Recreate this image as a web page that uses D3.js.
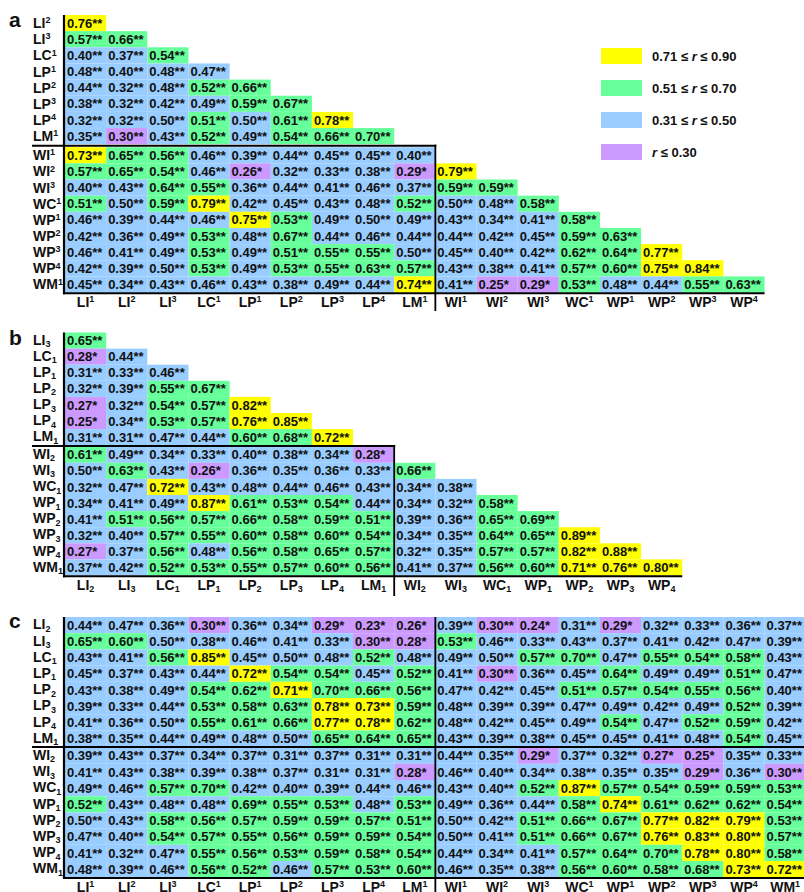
<!DOCTYPE html>
<html>
<head>
<meta charset="utf-8">
<script src="https://cdn.jsdelivr.net/npm/d3@7"></script>
<style>
  body { margin: 0; background: #fff; }
  svg { display: block; }
  text { font-family: "Liberation Sans", Arial, Helvetica, sans-serif; font-weight: bold; fill: #111; }
</style>
</head>
<body>
<svg id="chart" width="804" height="892"></svg>
<script>
// ---- Panel a: correlations (superscript indices) ----
const aRows = ["LI2","LI3","LC1","LP1","LP2","LP3","LP4","LM1","WI1","WI2","WI3","WC1","WP1","WP2","WP3","WP4","WM1"];
const aCols = ["LI1","LI2","LI3","LC1","LP1","LP2","LP3","LP4","LM1","WI1","WI2","WI3","WC1","WP1","WP2","WP3","WP4"];
const aValues = [
  ["0.76**"],
  ["0.57**","0.66**"],
  ["0.40**","0.37**","0.54**"],
  ["0.48**","0.40**","0.48**","0.47**"],
  ["0.44**","0.32**","0.48**","0.52**","0.66**"],
  ["0.38**","0.32**","0.42**","0.49**","0.59**","0.67**"],
  ["0.32**","0.32**","0.50**","0.51**","0.50**","0.61**","0.78**"],
  ["0.35**","0.30**","0.43**","0.52**","0.49**","0.54**","0.66**","0.70**"],
  ["0.73**","0.65**","0.56**","0.46**","0.39**","0.44**","0.45**","0.45**","0.40**"],
  ["0.57**","0.65**","0.54**","0.46**","0.26*","0.32**","0.33**","0.38**","0.29*","0.79**"],
  ["0.40**","0.43**","0.64**","0.55**","0.36**","0.44**","0.41**","0.46**","0.37**","0.59**","0.59**"],
  ["0.51**","0.50**","0.59**","0.79**","0.42**","0.45**","0.43**","0.48**","0.52**","0.50**","0.48**","0.58**"],
  ["0.46**","0.39**","0.44**","0.46**","0.75**","0.53**","0.49**","0.50**","0.49**","0.43**","0.34**","0.41**","0.58**"],
  ["0.42**","0.36**","0.49**","0.53**","0.48**","0.67**","0.44**","0.46**","0.44**","0.44**","0.42**","0.45**","0.59**","0.63**"],
  ["0.46**","0.41**","0.49**","0.53**","0.49**","0.51**","0.55**","0.55**","0.50**","0.45**","0.40**","0.42**","0.62**","0.64**","0.77**"],
  ["0.42**","0.39**","0.50**","0.53**","0.49**","0.53**","0.55**","0.63**","0.57**","0.43**","0.38**","0.41**","0.57**","0.60**","0.75**","0.84**"],
  ["0.45**","0.34**","0.43**","0.46**","0.43**","0.38**","0.49**","0.44**","0.74**","0.41**","0.25*","0.29*","0.53**","0.48**","0.44**","0.55**","0.63**"]
];

// ---- Panel b: correlations (subscript indices) ----
const bRows = ["LI3","LC1","LP1","LP2","LP3","LP4","LM1","WI2","WI3","WC1","WP1","WP2","WP3","WP4","WM1"];
const bCols = ["LI2","LI3","LC1","LP1","LP2","LP3","LP4","LM1","WI2","WI3","WC1","WP1","WP2","WP3","WP4"];
const bValues = [
  ["0.65**"],
  ["0.28*","0.44**"],
  ["0.31**","0.33**","0.46**"],
  ["0.32**","0.39**","0.55**","0.67**"],
  ["0.27*","0.32**","0.54**","0.57**","0.82**"],
  ["0.25*","0.34**","0.53**","0.57**","0.76**","0.85**"],
  ["0.31**","0.31**","0.47**","0.44**","0.60**","0.68**","0.72**"],
  ["0.61**","0.49**","0.34**","0.33**","0.40**","0.38**","0.34**","0.28*"],
  ["0.50**","0.63**","0.43**","0.26*","0.36**","0.35**","0.36**","0.33**","0.66**"],
  ["0.32**","0.47**","0.72**","0.43**","0.48**","0.44**","0.46**","0.43**","0.34**","0.38**"],
  ["0.34**","0.41**","0.49**","0.87**","0.61**","0.53**","0.54**","0.44**","0.34**","0.32**","0.58**"],
  ["0.41**","0.51**","0.56**","0.57**","0.66**","0.58**","0.59**","0.51**","0.39**","0.36**","0.65**","0.69**"],
  ["0.32**","0.40**","0.57**","0.55**","0.60**","0.58**","0.60**","0.54**","0.34**","0.35**","0.64**","0.65**","0.89**"],
  ["0.27*","0.37**","0.56**","0.48**","0.56**","0.58**","0.65**","0.57**","0.32**","0.35**","0.57**","0.57**","0.82**","0.88**"],
  ["0.37**","0.42**","0.52**","0.53**","0.55**","0.57**","0.60**","0.56**","0.41**","0.37**","0.56**","0.60**","0.71**","0.76**","0.80**"]
];

// ---- Panel c: cross correlations (subscript rows, superscript columns) ----
const cRows = ["LI2","LI3","LC1","LP1","LP2","LP3","LP4","LM1","WI2","WI3","WC1","WP1","WP2","WP3","WP4","WM1"];
const cCols = ["LI1","LI2","LI3","LC1","LP1","LP2","LP3","LP4","LM1","WI1","WI2","WI3","WC1","WP1","WP2","WP3","WP4","WM1"];
const cValues = [
  ["0.44**","0.47**","0.36**","0.30**","0.36**","0.34**","0.29*","0.23*","0.26*","0.39**","0.30**","0.24*","0.31**","0.29*","0.32**","0.33**","0.36**","0.37**"],
  ["0.65**","0.60**","0.50**","0.38**","0.46**","0.41**","0.33**","0.30**","0.28*","0.53**","0.46**","0.33**","0.43**","0.37**","0.41**","0.42**","0.47**","0.39**"],
  ["0.43**","0.41**","0.56**","0.85**","0.45**","0.50**","0.48**","0.52**","0.48**","0.49**","0.50**","0.57**","0.70**","0.47**","0.55**","0.54**","0.58**","0.43**"],
  ["0.45**","0.37**","0.43**","0.44**","0.72**","0.54**","0.54**","0.45**","0.52**","0.41**","0.30**","0.36**","0.45**","0.64**","0.49**","0.49**","0.51**","0.47**"],
  ["0.43**","0.38**","0.49**","0.54**","0.62**","0.71**","0.70**","0.66**","0.56**","0.47**","0.42**","0.45**","0.51**","0.57**","0.54**","0.55**","0.56**","0.40**"],
  ["0.39**","0.33**","0.44**","0.53**","0.58**","0.63**","0.78**","0.73**","0.59**","0.48**","0.39**","0.39**","0.47**","0.49**","0.42**","0.49**","0.52**","0.39**"],
  ["0.41**","0.36**","0.50**","0.55**","0.61**","0.66**","0.77**","0.78**","0.62**","0.48**","0.42**","0.45**","0.49**","0.54**","0.47**","0.52**","0.59**","0.42**"],
  ["0.38**","0.35**","0.44**","0.49**","0.48**","0.50**","0.65**","0.64**","0.65**","0.43**","0.39**","0.38**","0.45**","0.45**","0.41**","0.48**","0.54**","0.45**"],
  ["0.39**","0.43**","0.37**","0.34**","0.37**","0.31**","0.37**","0.31**","0.31**","0.44**","0.35**","0.29*","0.37**","0.32**","0.27*","0.25*","0.35**","0.33**"],
  ["0.41**","0.43**","0.38**","0.39**","0.38**","0.37**","0.31**","0.31**","0.28*","0.46**","0.40**","0.34**","0.38**","0.35**","0.35**","0.29**","0.36**","0.30**"],
  ["0.49**","0.46**","0.57**","0.70**","0.42**","0.40**","0.39**","0.44**","0.46**","0.43**","0.40**","0.52**","0.87**","0.57**","0.54**","0.59**","0.59**","0.53**"],
  ["0.52**","0.43**","0.48**","0.48**","0.69**","0.55**","0.53**","0.48**","0.53**","0.49**","0.36**","0.44**","0.58**","0.74**","0.61**","0.62**","0.62**","0.54**"],
  ["0.50**","0.43**","0.58**","0.56**","0.57**","0.59**","0.59**","0.57**","0.51**","0.50**","0.42**","0.51**","0.66**","0.67**","0.77**","0.82**","0.79**","0.53**"],
  ["0.47**","0.40**","0.54**","0.57**","0.55**","0.56**","0.59**","0.59**","0.54**","0.50**","0.41**","0.51**","0.66**","0.67**","0.76**","0.83**","0.80**","0.57**"],
  ["0.41**","0.32**","0.47**","0.55**","0.56**","0.53**","0.59**","0.58**","0.54**","0.44**","0.34**","0.41**","0.57**","0.64**","0.70**","0.78**","0.80**","0.58**"],
  ["0.48**","0.39**","0.46**","0.56**","0.52**","0.46**","0.57**","0.53**","0.60**","0.46**","0.35**","0.38**","0.56**","0.60**","0.58**","0.68**","0.73**","0.72**"]
];

// ---- Colour classes ----
const classLabels = ["0.71 \u2264 r \u2264 0.90", "0.51 \u2264 r \u2264 0.70", "0.31 \u2264 r \u2264 0.50", "r \u2264 0.30"];
const classColors = ["#FFFF00", "#66FF99", "#99CCFF", "#CC99FF"];

const fill = d3.scaleThreshold()
  .domain([0.305, 0.505, 0.705])
  .range(["#CC99FF", "#99CCFF", "#66FF99", "#FFFF00"]);

const svg = d3.select("#chart");
const X0 = 65, COLW = 41.15, LINE = "#000";

// Writes a name such as "LP3" as "LP" followed by a raised or lowered index
function writeName(sel, name, script) {
  const m = name.match(/^([A-Z]+)(\d)$/);
  sel.append("tspan").text(m[1]);
  sel.append("tspan")
    .attr("font-size", 9)
    .attr("dy", script === "sup" ? -4.8 : 2.4)
    .text(m[2]);
}

const panels = [
  { letter: "a", letterY: 27, rows: aRows, cols: aCols, values: aValues,
    top: 15, rowH: 16.15, gap: 3, rowScript: "sup", colScript: "sup",
    fullSep: false, colLabelY: 306.5, vEnd: 311 },
  { letter: "b", letterY: 345, rows: bRows, cols: bCols, values: bValues,
    top: 332.5, rowH: 16.1, gap: 1.5, rowScript: "sub", colScript: "sub",
    fullSep: false, colLabelY: 590, vEnd: 596 },
  { letter: "c", letterY: 628, rows: cRows, cols: cCols, values: cValues,
    top: 617, rowH: 16.2, gap: 1, rowScript: "sub", colScript: "sup",
    fullSep: true, colLabelY: 891.5, vEnd: 892 }
];

panels.forEach(p => {
  const g = svg.append("g");
  const x = d3.scaleBand().domain(p.cols).range([X0, X0 + p.cols.length * COLW]);
  const y = d3.scaleBand().domain(p.rows).range([p.top, p.top + p.rows.length * p.rowH]);
  const wRow = p.rows.findIndex(r => r[0] === "W");
  const wCol = p.cols.findIndex(c => c[0] === "W");
  const rowY = r => y(r) + (p.rows.indexOf(r) >= wRow ? p.gap : 0);

  const cells = p.values.flatMap((vals, i) =>
    vals.map((s, j) => ({ row: p.rows[i], col: p.cols[j], text: s, v: parseFloat(s) })));

  g.append("g").selectAll("rect").data(cells).join("rect")
    .attr("x", d => x(d.col))
    .attr("y", d => rowY(d.row))
    .attr("width", x.bandwidth())
    .attr("height", y.bandwidth())
    .attr("fill", d => fill(d.v));

  g.append("g").selectAll("text").data(cells).join("text")
    .attr("x", d => x(d.col) + 2)
    .attr("y", d => rowY(d.row) + y.bandwidth() / 2 + 4.6)
    .attr("font-size", 13)
    .text(d => d.text);

  // row names
  g.append("g").selectAll("text").data(p.rows).join("text")
    .attr("x", 33)
    .attr("y", d => rowY(d) + y.bandwidth() / 2 + (p.rowScript === "sub" ? 4.2 : 5))
    .attr("font-size", 14)
    .each(function (d) { writeName(d3.select(this), d, p.rowScript); });

  // column names
  g.append("g").selectAll("text").data(p.cols).join("text")
    .attr("x", d => x(d) + x.bandwidth() / 2)
    .attr("y", p.colLabelY)
    .attr("text-anchor", "middle")
    .attr("font-size", 14)
    .each(function (d) { writeName(d3.select(this), d, p.colScript); });

  // frame lines
  const sepY = p.top + wRow * p.rowH + p.gap / 2;
  const bottomY = p.top + p.rows.length * p.rowH + p.gap + 0.8;
  const xRight = x.range()[1];
  const xSplit = x(p.cols[wCol]);

  g.append("line").attr("x1", 64).attr("x2", 64).attr("y1", p.top).attr("y2", bottomY + 1)
    .attr("stroke", LINE).attr("stroke-width", 2.2);
  g.append("line").attr("x1", 32).attr("x2", p.fullSep ? xRight : xSplit + 1)
    .attr("y1", sepY).attr("y2", sepY).attr("stroke", LINE).attr("stroke-width", 2);
  g.append("line").attr("x1", xSplit).attr("x2", xSplit)
    .attr("y1", p.fullSep ? p.top : sepY - 1).attr("y2", p.vEnd)
    .attr("stroke", LINE).attr("stroke-width", 1.8);
  g.append("line").attr("x1", 63).attr("x2", xRight).attr("y1", bottomY).attr("y2", bottomY)
    .attr("stroke", LINE).attr("stroke-width", 2);

  g.append("text").attr("x", 9).attr("y", p.letterY).attr("font-size", 21).text(p.letter);
});

// ---- Legend ----
const ly = d3.scaleBand().domain(classLabels).range([48, 176]);
const lg = svg.append("g");
lg.selectAll("rect").data(classLabels).join("rect")
  .attr("x", 601).attr("y", d => ly(d)).attr("width", 41).attr("height", 16)
  .attr("fill", (d, i) => classColors[i]);
lg.selectAll("text").data(classLabels).join("text")
  .attr("x", 652).attr("y", d => ly(d) + 12.7)
  .attr("font-size", 13)
  .each(function (d) {
    const t = d3.select(this);
    d.split(/(r)/).forEach(part => {
      if (!part) return;
      const s = t.append("tspan").text(part);
      if (part === "r") s.attr("font-style", "italic");
    });
  });
</script>
</body>
</html>
